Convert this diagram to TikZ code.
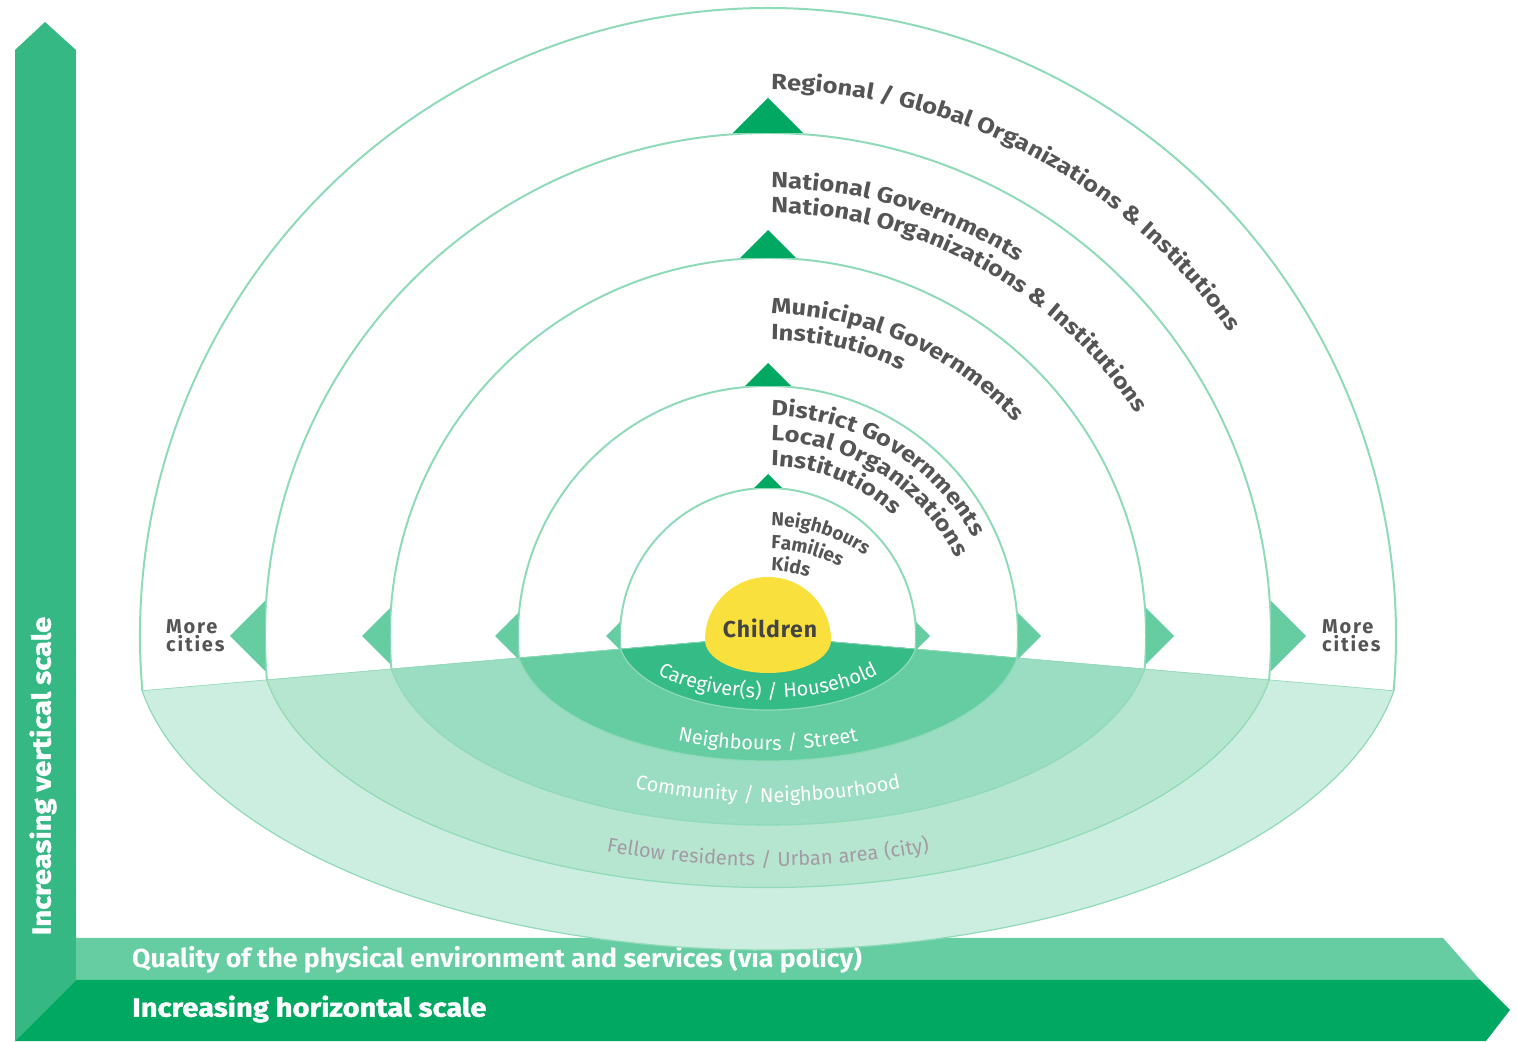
\documentclass[tikz,border=0pt]{standalone}
\usepackage{fontspec}
\setmainfont{Fira Sans}
\newfontfamily\heavyfont{Fira Sans}[FakeStretch=1.12, FakeBold=1.5]
\newfontfamily\axisfont{Fira Sans}[FakeStretch=1.025]
\newfontfamily\arcfam{Fira Sans}[FakeStretch=1.16]
\newfontfamily\spacedfam{Fira Sans}[LetterSpace=9]
\newfontfamily\bowlfam{Fira Sans}[LetterSpace=4]
\usetikzlibrary{decorations.text}

\definecolor{darkgreen}{HTML}{00A862}
\definecolor{midgreen}{HTML}{35B884}
\definecolor{lightband}{HTML}{66CDA3}
\definecolor{bowlA}{HTML}{CCEEE0}
\definecolor{bowlB}{HTML}{B6E5D0}
\definecolor{bowlC}{HTML}{9BDDC2}
\definecolor{bowlD}{HTML}{66CDA3}
\definecolor{bowlE}{HTML}{35BB85}
\definecolor{ringline}{HTML}{8FDAB8}
\definecolor{sunyellow}{HTML}{F9E03C}
\definecolor{labelgray}{HTML}{555555}
\definecolor{fellowgray}{HTML}{A49AA4}

\newcommand{\arcfont}{\arcfam\fontsize{22}{24}\selectfont\bfseries}
\newcommand{\smallarcfont}{\fontsize{19}{20}\selectfont\bfseries}
\newcommand{\bowlfont}{\bowlfam\fontsize{20}{22}\selectfont}

% text on an arc, starting at the top: centre y, radius, font, text
\newcommand{\arclabel}[4]{%
  \path[decorate, decoration={text along path, text color=labelgray, text={|#3|#4}}]
    (768,#1) ++({90-172/#2}:#2) arc[start angle={90-172/#2}, end angle=-20, radius=#2];}

% text on the lower half of an ellipse: x radius, y radius, colour, text
\newcommand{\bowllabel}[4]{%
  \path[decorate, decoration={text along path, text align=center, text color=#3, text={|\bowlfont|#4}}]
    (768,405) ++(190:#1 and #2) arc[start angle=190, end angle=350, x radius=#1, y radius=#2];}

\begin{document}
\begin{tikzpicture}[x=1pt, y=1pt,
    ring/.style={draw=ringline, line width=2pt},
    bowledge/.style={draw=ringline, line width=1.2pt},
    axislabel/.style={text=white, font=\axisfont\fontsize{26}{28}\selectfont\bfseries, inner sep=0pt},
    heavylabel/.style={text=white, font=\heavyfont\fontsize{26}{28}\selectfont\bfseries, inner sep=0pt},
    citylabel/.style={text=labelgray, font=\spacedfam\fontsize{20}{18}\selectfont\bfseries, align=left, inner sep=0pt}]
    \useasboundingbox (0,0) rectangle (1517,1041);

    % axes
    \fill[midgreen] (15,0) -- (15,991) -- (45,1019) -- (76,991) -- (76,61) -- cycle;
    \fill[lightband] (76,103) -- (1443,103) -- (1480,61) -- (76,61) -- cycle;
    \fill[darkgreen] (15,0) -- (76,61) -- (1480,61) -- (1510,31) -- (1486,0) -- cycle;

    \node[heavylabel, rotate=90] (vertical) at (43,265) {Increasing vertical scale};
    \node[axislabel, anchor=west] (quality) at (132,82) {Quality of the physical environment and services (via policy)};
    \node[heavylabel, anchor=west] (horizontal) at (132,32) {Increasing horizontal scale};

    % bowls below the horizon
    \begin{scope}
        \clip (0,338.2) -- (768,405) -- (1517,339.8) -- (1517,0) -- (0,0) -- cycle;
        \foreach \r/\c in {628/bowlA, 503/bowlB, 378/bowlC, 250/bowlD, 148/bowlE}
            \filldraw[fill=\c, bowledge] (768,405) ellipse[x radius=1.012*\r, y radius=\r/2];
        \clip (768,405) ellipse[x radius=1.012*628, y radius=314];
        \draw[bowledge] (0,338.2) -- (768,405) -- (1517,339.8);
    \end{scope}

    % domes
    \foreach \r in {628,503,378,250,148}
        \draw[ring] (768,405) ++(185:\r) arc[start angle=185, end angle=-5, radius=\r];

    % tips on the domes
    \foreach \r/\s in {503/35, 378/28, 250/23, 148/14} {
        \fill[darkgreen] ({768-\s},{405+\r}) -- (768,{405+\r+\s}) -- ({768+\s},{405+\r}) -- cycle;
        \fill[lightband] ({768-\r},{405+\s}) -- ({768-\r-\s},405) -- ({768-\r},{405-\s}) -- cycle;
        \fill[lightband] ({768+\r},{405+\s}) -- ({768+\r+\s},405) -- ({768+\r},{405-\s}) -- cycle;
    }

    % children
    \fill[sunyellow] (705,401) arc[start angle=180, end angle=0, radius=63]
        arc[start angle=0, end angle=-180, x radius=63, y radius=33] -- cycle;
    \node[text=labelgray!80!black, font=\bowlfam\fontsize{23}{24}\selectfont\bfseries] (children) at (770,413) {Children};

    \node[citylabel, anchor=west] (citiesleft) at (166,405) {More\\cities};
    \node[citylabel, anchor=west] (citiesright) at (1322,405) {More\\cities};

    % labels along the domes
    \arclabel{391}{560}{\arcfont}{Regional / Global Organizations {\&} Institutions}
    \arclabel{391}{462}{\arcfont}{National Governments}
    \arclabel{391}{437}{\arcfont}{National Organizations {\&} Institutions}
    \arclabel{391}{336}{\arcfont}{Municipal Governments}
    \arclabel{391}{310}{\arcfont}{Institutions}
    \arclabel{391}{234}{\arcfont}{District Governments}
    \arclabel{391}{209}{\arcfont}{Local Organizations}
    \arclabel{391}{184}{\arcfont}{Institutions}
    \arclabel{341}{174}{\smallarcfont}{Neighbours}
    \arclabel{341}{151}{\smallarcfont}{Families}
    \arclabel{341}{129}{\smallarcfont}{Kids}

    % labels along the bowls
    \bowllabel{140}{62}{white}{Caregiver(s) / Household}
    \bowllabel{228}{114}{white}{Neighbours / Street}
    \bowllabel{332}{166}{white}{Community / Neighbourhood}
    \bowllabel{460}{230}{fellowgray}{Fellow residents / Urban area (city)}
\end{tikzpicture}
\end{document}
